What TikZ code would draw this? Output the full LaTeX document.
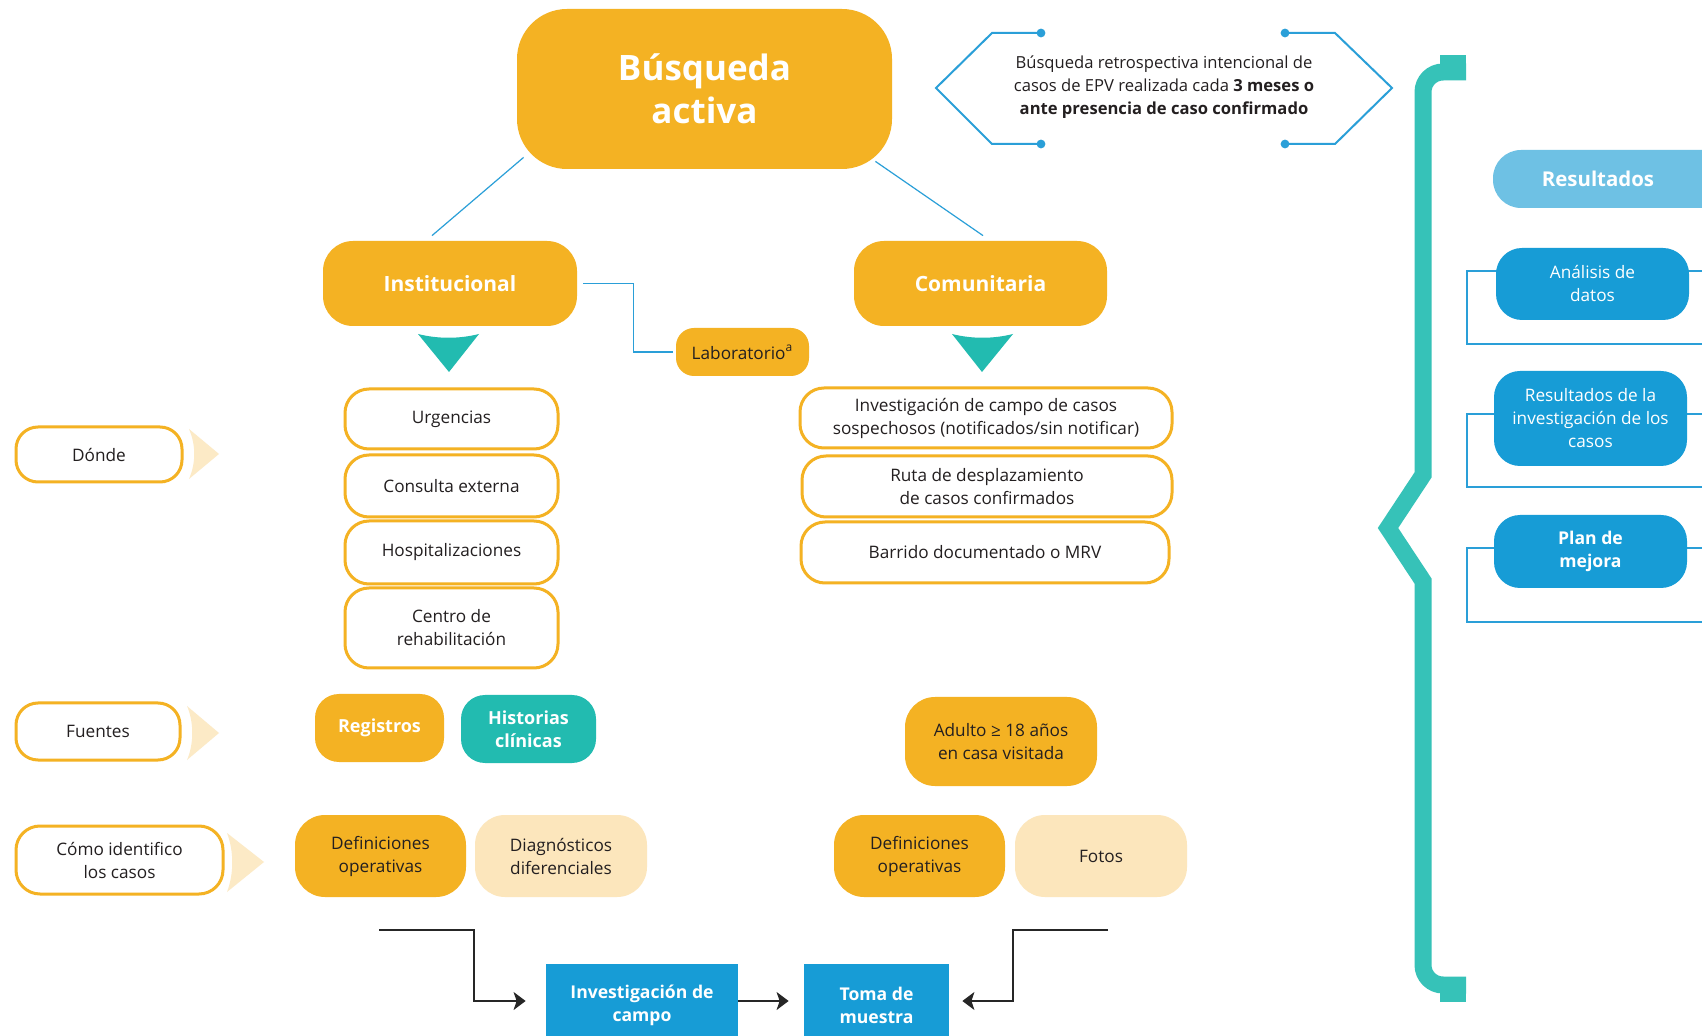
\documentclass[tikz,border=0pt]{standalone}
\usepackage{fontspec}
\setmainfont{Open Sans}
\usetikzlibrary{arrows.meta,calc}

\definecolor{naranja}{HTML}{F4B223}
\definecolor{crema}{HTML}{FCE6BC}
\definecolor{turquesa}{HTML}{22BBB0}
\definecolor{llave}{HTML}{36C2B8}
\definecolor{azul}{HTML}{179CD6}
\definecolor{celeste}{HTML}{6EC1E4}
\definecolor{linea}{HTML}{2A9FD8}
\definecolor{texto}{HTML}{231F20}

\tikzset{
  caja/.style={rectangle, align=center, inner sep=0pt, text=texto,
    font=\fontsize{8.6}{11.5}\selectfont},
  borde/.style={caja, draw=naranja, line width=1.5pt, rounded corners=12pt},
  llena/.style={caja, fill=naranja, rounded corners=15pt},
  clara/.style={caja, fill=crema, rounded corners=15pt},
  titulo/.style={caja, fill=naranja, text=white, rounded corners=15pt,
    font=\fontsize{10.5}{13}\selectfont\bfseries},
  blanca/.style={text=white, font=\fontsize{9}{11.5}\selectfont\bfseries},
  azulbox/.style={caja, fill=azul, text=white, rounded corners=13pt},
  cuadro/.style={caja, fill=azul, text=white,
    font=\fontsize{8.8}{11.5}\selectfont\bfseries},
  link/.style={draw=linea, line width=0.6pt},
  marco/.style={draw=linea, line width=0.7pt},
  flecha/.style={draw=black!85, line width=0.7pt,
    -{Stealth[length=6pt,width=9pt,inset=1.5pt]}},
  chevron/.style={fill=crema!85!white}
}

\begin{document}
\begin{tikzpicture}[x=0.5pt,y=-0.5pt]
  \fill[white] (0,0) rectangle (1702,1036);
  \useasboundingbox (0,0) rectangle (1702,1036);

  \draw[marco] (1720,271) -- (1467,271) -- (1467,344) -- (1720,344);
  \draw[marco] (1720,414) -- (1467,414) -- (1467,487) -- (1720,487);
  \draw[marco] (1720,548) -- (1467,548) -- (1467,622) -- (1720,622);

  \draw[draw=llave, line width=8.5pt]
    (1466,72) [rounded corners=10pt] -- (1423,72) -- (1423,200)
    [sharp corners] -- (1423,475) -- (1388,528) -- (1423,581) -- (1423,900)
    [rounded corners=10pt] -- (1423,985) -- (1466,985);
  \fill[llave] (1440,55) rectangle (1466,80);
  \fill[llave] (1440,977) rectangle (1466,1002);

  \draw[link, line width=1pt]
    (1041,33) -- (992,33) -- (936,88) -- (992,144) -- (1041,144);
  \draw[link, line width=1pt]
    (1285,33) -- (1335,33) -- (1392,88) -- (1335,144) -- (1285,144);
  \foreach \x/\y in {1041/33, 1041/144, 1285/33, 1285/144}
    \fill[linea] (\x,\y) circle (2.2pt);

  \fill[chevron] (189,429) .. controls (196,445) and (196,463) .. (189,479) -- (219,454) -- cycle;
  \fill[chevron] (187,706) .. controls (194,722) and (194,744) .. (187,760) -- (219,733) -- cycle;
  \fill[chevron] (227,833) .. controls (234,851) and (234,874) .. (227,892) -- (264,862) -- cycle;

  \fill[turquesa] (418,334) .. controls (438,339) and (459,339) .. (479,334) -- (449,372) -- cycle;
  \fill[turquesa] (952,334) .. controls (972,339) and (993,339) .. (1013,334) -- (982,372) -- cycle;

  \node[titulo, rounded corners=25pt, minimum width=187.5pt, minimum height=80pt,
    font=\fontsize{17.5}{21.5}\selectfont\bfseries] (busq) at (704.5,89)
    {Búsqueda\\activa};
  \node[caja, font=\fontsize{8.3}{11.5}\selectfont] (nota) at (1164,87)
    {Búsqueda retrospectiva intencional de\\casos de EPV realizada cada \textbf{3 meses o}\\\textbf{ante presencia de caso confirmado}};

  \node[titulo, minimum width=127pt, minimum height=42.5pt] (inst) at (450,283.5) {Institucional};
  \node[titulo, minimum width=126.5pt, minimum height=42.5pt] (comu) at (980.5,283.5) {Comunitaria};
  \node[llena, rounded corners=9pt, minimum width=66.5pt, minimum height=24pt] (lab) at (742.5,352)
    {Laboratorio\textsuperscript{a}};

  \node[borde, minimum width=106.5pt, minimum height=30pt] (urg) at (451.5,419) {Urgencias};
  \node[borde, minimum width=106.5pt, minimum height=31pt] (cext) at (451.5,486) {Consulta externa};
  \node[borde, minimum width=106.5pt, minimum height=31.5pt] (hosp) at (451.5,552.5) {Hospitalizaciones};
  \node[borde, minimum width=106.5pt, minimum height=40pt] (rehab) at (451.5,628) {Centro de\\rehabilitación};

  \node[borde, minimum width=186pt, minimum height=30pt] (sosp) at (986,418)
    {Investigación de campo de casos\\sospechosos (notificados/sin notificar)};
  \node[borde, minimum width=185pt, minimum height=30.5pt] (ruta) at (987,486.5)
    {Ruta de desplazamiento\\de casos confirmados};
  \node[borde, minimum width=184pt, minimum height=30.5pt] (barrido) at (985,552.5)
    {Barrido documentado o MRV};

  \node[borde, rounded corners=11pt, minimum width=83pt, minimum height=27.5pt] (donde) at (99,454.5) {Dónde};
  \node[borde, rounded corners=11pt, minimum width=82pt, minimum height=28.5pt] (fuentes) at (98,731.5) {Fuentes};
  \node[borde, rounded corners=12pt, minimum width=103.5pt, minimum height=34pt] (como) at (119.5,860)
    {Cómo identifico\\los casos};

  \node[llena, blanca, rounded corners=12pt, minimum width=64.5pt, minimum height=34pt] (reg) at (379.5,728) {Registros};
  \node[llena, blanca, fill=turquesa, rounded corners=12pt, minimum width=67.5pt, minimum height=34pt] (hist) at (528.5,729)
    {Historias\\clínicas};
  \node[llena, minimum width=96pt, minimum height=44.5pt] (adulto) at (1001,741.5)
    {Adulto ≥ 18 años\\en casa visitada};

  \node[llena, minimum width=85.5pt, minimum height=41pt] (defizq) at (380.5,856) {Definiciones\\operativas};
  \node[clara, minimum width=86pt, minimum height=41pt] (diag) at (561,856) {Diagnósticos\\diferenciales};
  \node[llena, minimum width=85.5pt, minimum height=41pt] (defder) at (919.5,856) {Definiciones\\operativas};
  \node[clara, minimum width=86pt, minimum height=41pt] (fotos) at (1101,856) {Fotos};

  \node[cuadro, minimum width=96pt, minimum height=41pt] (campo) at (642,1005) {Investigación de\\campo};
  \node[cuadro, minimum width=72.5pt, minimum height=41pt] (toma) at (876.5,1005) {Toma de\\muestra};

  \node[caja, fill=celeste, text=white, rounded corners=14pt, minimum width=125pt, minimum height=29pt,
    font=\fontsize{10.2}{12}\selectfont\bfseries] (result) at (1618,179) {Resultados\hspace*{20pt}};
  \node[azulbox, minimum width=96.5pt, minimum height=36pt] (analisis) at (1592.5,284) {Análisis de\\datos};
  \node[azulbox, minimum width=96.5pt, minimum height=47.5pt] (resinv) at (1590.5,418.5)
    {Resultados de la\\investigación de los\\casos};
  \node[azulbox, minimum width=96.5pt, minimum height=36.5pt,
    font=\fontsize{8.8}{11.5}\selectfont\bfseries] (plan) at (1590.5,551.5) {Plan de\\mejora};

  \draw[link] ($(busq.south west)+(7,-12)$) -- ($(inst.north)+(-18,-5)$);
  \draw[link] ($(busq.south east)+(-17,-8)$) -- ($(comu.north)+(2.5,-5)$);
  \draw[link] ([xshift=3pt]inst.east) -- ++(50,0) |- ([xshift=-1.5pt]lab.west);

  \coordinate (izq) at (379,930);
  \coordinate (der) at (1108,930);
  \draw[flecha] (izq) -- ++(95,0) |- ([xshift=-10pt,yshift=2pt]campo.west);
  \draw[flecha] ([yshift=2pt]campo.east) -- ([xshift=-7.5pt,yshift=2pt]toma.west);
  \draw[flecha] (der) -- ++(-95,0) |- ([xshift=6.5pt,yshift=2pt]toma.east);
\end{tikzpicture}
\end{document}
